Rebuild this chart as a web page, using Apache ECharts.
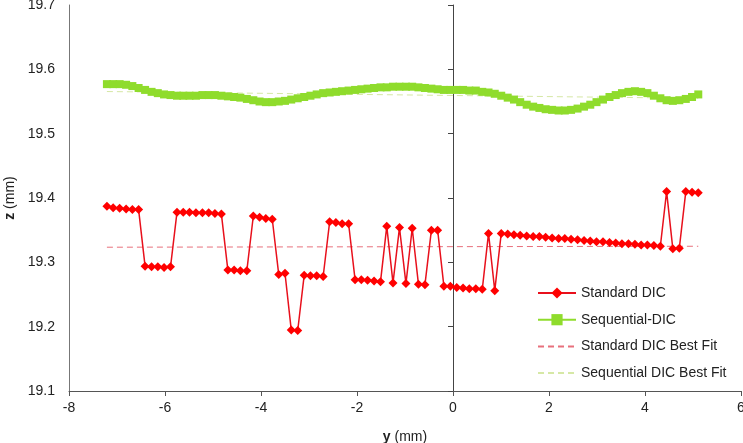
<!DOCTYPE html>
<html>
<head>
<meta charset="utf-8">
<script src="https://cdn.jsdelivr.net/npm/echarts@6/dist/echarts.min.js"></script>
<style>
html,body{margin:0;padding:0;background:#fff;}
#chart{width:743px;height:443px;}
</style>
</head>
<body>
<div id="chart"></div>
<script>
// y position (mm) of each measurement point
var yPos = [-7.21,-7.08,-6.945,-6.81,-6.68,-6.55,-6.415,-6.28,-6.15,-6.02,
  -5.885,-5.75,-5.62,-5.49,-5.355,-5.22,-5.09,-4.96,-4.825,-4.69,
  -4.56,-4.43,-4.295,-4.16,-4.03,-3.9,-3.765,-3.63,-3.5,-3.37,
  -3.235,-3.1,-2.97,-2.84,-2.705,-2.57,-2.44,-2.31,-2.175,-2.04,
  -1.91,-1.78,-1.645,-1.51,-1.38,-1.25,-1.115,-0.98,-0.85,-0.72,
  -0.585,-0.45,-0.32,-0.19,-0.055,0.078,0.21,0.34,0.475,0.61,
  0.74,0.87,1.005,1.14,1.27,1.4,1.535,1.67,1.8,1.93,
  2.065,2.2,2.33,2.46,2.595,2.73,2.86,2.99,3.125,3.26,
  3.39,3.52,3.655,3.79,3.92,4.05,4.185,4.32,4.45,4.58,
  4.715,4.85,4.98,5.11];

// Standard DIC z (mm)
var standardZ = [19.387,19.385,19.384,19.383,19.382,19.382,
  19.294,19.293,19.293,19.292,19.293,
  19.378,19.378,19.378,19.377,19.377,19.377,19.376,19.375,
  19.288,19.288,19.287,19.287,
  19.372,19.370,19.368,19.367,
  19.281,19.283,
  19.195,19.194,
  19.280,19.279,19.279,19.278,
  19.363,19.362,19.360,19.360,
  19.273,19.273,19.272,19.271,19.270,
  19.356,19.268,19.354,19.267,19.353,
  19.266,19.265,
  19.350,19.350,
  19.263,19.263,19.261,19.260,19.259,19.259,19.258,
  19.345,19.256,
  19.345,19.344,19.343,19.342,19.341,19.340,19.340,19.339,19.338,19.337,
  19.337,19.336,19.335,19.334,19.333,19.332,19.332,19.331,19.330,19.329,
  19.329,19.328,19.327,19.327,19.326,19.325,
  19.410,
  19.321,19.322,
  19.410,19.409,19.408];

// Sequential-DIC z (mm)
var sequentialZ = [19.577,19.577,19.577,19.576,19.574,19.571,19.568,19.565,19.563,19.561,
  19.560,19.559,19.559,19.559,19.559,19.560,19.560,19.560,19.559,19.558,
  19.557,19.556,19.554,19.552,19.550,19.549,19.549,19.550,19.551,19.553,
  19.555,19.557,19.559,19.561,19.563,19.564,19.565,19.566,19.567,19.568,
  19.569,19.570,19.571,19.572,19.572,19.573,19.573,19.573,19.573,19.572,
  19.571,19.570,19.569,19.568,19.568,19.568,19.568,19.567,19.567,19.565,
  19.564,19.562,19.559,19.556,19.553,19.549,19.545,19.542,19.540,19.538,
  19.537,19.536,19.536,19.537,19.539,19.542,19.545,19.549,19.553,19.557,
  19.560,19.563,19.565,19.566,19.565,19.563,19.559,19.555,19.552,19.551,
  19.552,19.554,19.557,19.561];

// Best fit lines: endpoints [y, z]
var standardFitY = [-7.21, 5.11];
var standardFitZ = [19.3235, 19.3250];
var sequentialFitY = [-7.21, 5.11];
var sequentialFitZ = [19.5655, 19.5550];

var xTicks = {min: -8, max: 6, interval: 2};
var yTicks = {min: 19.1, max: 19.7, interval: 0.1};

function pairs(xs, ys){ return xs.map(function(x,i){ return [x, ys[i]]; }); }

var font = 'Arial, "Liberation Sans", sans-serif';
var chart = echarts.init(document.getElementById('chart'));
chart.setOption({
  animation: false,
  backgroundColor: '#ffffff',
  textStyle: {fontFamily: font},
  grid: {left: 69, right: 2, top: 5, bottom: 52, containLabel: false, outerBoundsMode: 'none'},
  legend: {
    orient: 'vertical', left: 537, top: 286, padding: 0,
    itemWidth: 38, itemHeight: 14, itemGap: 12.7,
    textStyle: {fontSize: 14, color: '#222', fontFamily: font},
    data: [
      {name: 'Standard DIC'},
      {name: 'Sequential-DIC'},
      {name: 'Standard DIC Best Fit', itemStyle: {opacity: 0, borderWidth: 0}},
      {name: 'Sequential DIC Best Fit', itemStyle: {opacity: 0, borderWidth: 0}}
    ]
  },
  xAxis: {
    type: 'value', min: xTicks.min, max: xTicks.max, interval: xTicks.interval,
    name: '{b|y} (mm)', nameLocation: 'middle', nameGap: 39,
    nameTextStyle: {fontSize: 14, color: '#222', fontFamily: font,
      rich: {b: {fontSize: 14, fontWeight: 'bold', color: '#222', fontFamily: font}}},
    axisLine: {show: true, onZero: false, lineStyle: {color: '#555', width: 1}},
    axisTick: {show: true, length: 5, lineStyle: {color: '#555'}},
    axisLabel: {fontSize: 14, color: '#222', margin: 10, fontFamily: font},
    splitLine: {show: false}
  },
  yAxis: [{
    type: 'value', min: yTicks.min, max: yTicks.max, interval: yTicks.interval,
    name: '{b|z} (mm)', nameLocation: 'middle', nameGap: 51,
    nameTextStyle: {fontSize: 14, color: '#222', fontFamily: font,
      rich: {b: {fontSize: 14, fontWeight: 'bold', color: '#222', fontFamily: font}}},
    axisLine: {show: true, onZero: false, lineStyle: {color: '#777', width: 1}},
    axisTick: {show: false},
    axisLabel: {fontSize: 14, color: '#222', margin: 14, fontFamily: font,
      formatter: function(v){ return v.toFixed(1); }},
    splitLine: {show: false}
  }, {
    type: 'value', min: yTicks.min, max: yTicks.max, interval: yTicks.interval,
    position: 'left',
    axisLine: {show: true, onZero: true, lineStyle: {color: '#444', width: 1}},
    axisTick: {show: true, length: 5, lineStyle: {color: '#444'}},
    axisLabel: {show: false},
    splitLine: {show: false}
  }],
  series: [{
    name: 'Standard DIC', type: 'line', z: 3,
    data: pairs(yPos, standardZ),
    symbol: 'diamond', symbolSize: 9, showAllSymbol: true,
    itemStyle: {color: '#ff0000'},
    lineStyle: {color: '#e8101c', width: 1.5}
  }, {
    name: 'Sequential-DIC', type: 'line', z: 2,
    data: pairs(yPos, sequentialZ),
    symbol: 'rect', symbolSize: 8, showAllSymbol: true,
    itemStyle: {color: '#8fdc2c'},
    lineStyle: {color: '#8fdc2c', width: 2}
  }, {
    name: 'Standard DIC Best Fit', type: 'line', z: 1,
    data: pairs(standardFitY, standardFitZ),
    symbol: 'none',
    itemStyle: {color: '#e8707c'},
    lineStyle: {color: '#e8707c', width: 1, type: [6, 4]}
  }, {
    name: 'Sequential DIC Best Fit', type: 'line', z: 1,
    data: pairs(sequentialFitY, sequentialFitZ),
    symbol: 'none',
    itemStyle: {color: '#d6e8a6'},
    lineStyle: {color: '#d6e8a6', width: 1, type: [6, 4]}
  }]
});
</script>
</body>
</html>
